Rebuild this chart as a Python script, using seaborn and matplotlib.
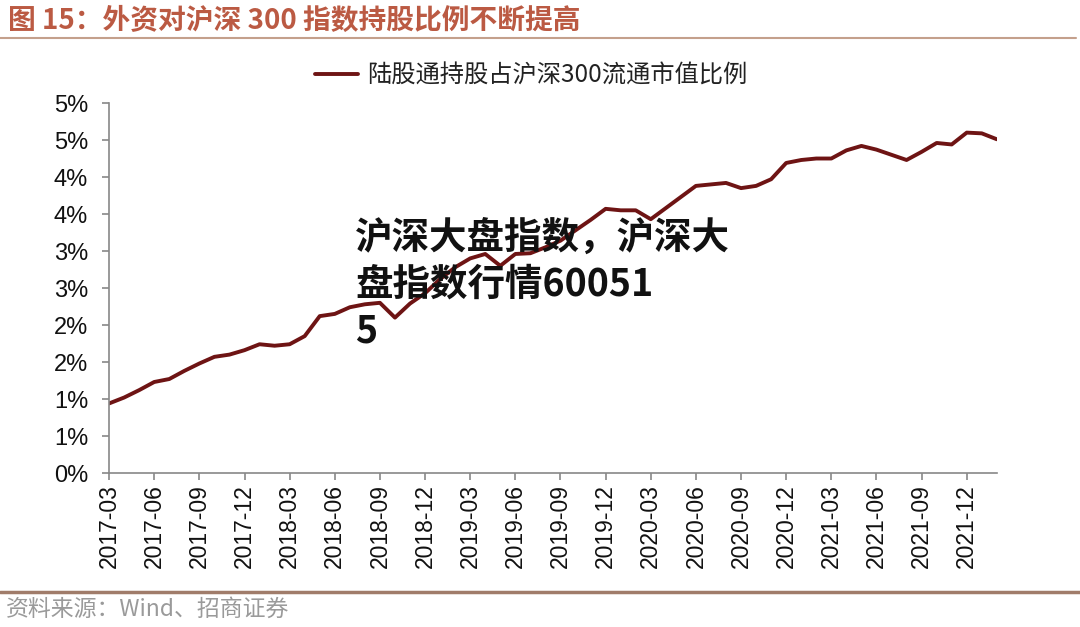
import numpy as np
import pandas as pd
import matplotlib
matplotlib.use("Agg")
from matplotlib import pyplot as plt
import seaborn as sns

# Monthly data, 2017-03 .. 2022-02
months = pd.period_range("2017-03", "2022-02", freq="M").strftime("%Y-%m").tolist()
share = [0.94, 1.02, 1.12, 1.23, 1.27, 1.38, 1.48, 1.57, 1.60, 1.66,
         1.74, 1.72, 1.74, 1.85, 2.12, 2.15, 2.24, 2.28, 2.30, 2.10,
         2.29, 2.43, 2.62, 2.78, 2.90, 2.96, 2.80, 2.96, 2.97, 3.05,
         3.14, 3.28, 3.42, 3.57, 3.55, 3.55, 3.43, 3.58, 3.73, 3.88,
         3.90, 3.92, 3.85, 3.88, 3.97, 4.19, 4.23, 4.25, 4.25, 4.36,
         4.42, 4.37, 4.30, 4.23, 4.34, 4.46, 4.44, 4.60, 4.59, 4.51]
y_ticks = [0, 0.5, 1.0, 1.5, 2.0, 2.5, 3.0, 3.5, 4.0, 4.5, 5.0]
y_labels = ["0%", "1%", "1%", "2%", "2%", "3%", "3%", "4%", "4%", "5%", "5%"]

series_name = "陆股通持股占沪深300流通市值比例"
title = "图 15：外资对沪深 300 指数持股比例不断提高"
source = "资料来源：Wind、招商证券"
overlay = "沪深大盘指数，沪深大\n盘指数行情60051\n5"

df = pd.DataFrame({"idx": np.arange(len(months)), "month": months, "share": share})

sns.set_theme(style="white")
plt.rcParams["font.family"] = ["Liberation Sans", "Noto Sans CJK SC", "DejaVu Sans"]

fig = plt.figure(figsize=(10.8, 6.27), dpi=100)
ax = fig.add_axes([0.101, 0.2456, 0.822, 0.5901])

sns.lineplot(data=df, x="idx", y="share", ax=ax, color="#6e1414",
             linewidth=2.8, label=series_name)

ax.set_xlim(0, len(months) - 1)
ax.set_ylim(0, 5.0)
ax.set_xticks(df["idx"][::3])
ax.set_xticklabels(df["month"][::3], rotation=90, fontsize=16.5, color="#111111")
ax.set_yticks(y_ticks)
ax.set_yticklabels(y_labels, fontsize=17, color="#111111")
ax.set_xlabel("")
ax.set_ylabel("")
ax.tick_params(axis="both", direction="out", length=5, width=1.2, color="#888888",
               bottom=True, left=True)
ax.tick_params(axis="y", pad=10)
ax.tick_params(axis="x", pad=3)
for s in ["top", "right"]:
    ax.spines[s].set_visible(False)
for s in ["left", "bottom"]:
    ax.spines[s].set_color("#888888")
    ax.spines[s].set_linewidth(1.2)

leg = ax.legend(loc="center", bbox_to_anchor=(0.492, 0.880), bbox_transform=fig.transFigure,
                frameon=False, handlelength=1.75, handletextpad=0.4,
                prop={"family": ["Noto Sans CJK SC"], "size": 17.5})
for t in leg.get_texts():
    t.set_color("#222222")

fig.text(0.007, 0.967, title, fontsize=20, color="#bb5a43", fontweight="bold",
         family=["Noto Sans CJK SC", "DejaVu Sans"], va="center", ha="left")
fig.add_artist(plt.Line2D([0, 0.996], [0.939, 0.939], transform=fig.transFigure,
                          color="#c4a08c", linewidth=1.5))
fig.add_artist(plt.Line2D([0, 1.0], [0.056, 0.056], transform=fig.transFigure,
                          color="#a07c6a", linewidth=2.5))
fig.text(0.005, 0.029, source, fontsize=16.5, color="#9a9a9a",
         family=["Noto Sans CJK SC", "DejaVu Sans"], va="center", ha="left")

fig.text(0.329, 0.652, overlay, fontsize=27, color="#111111", fontweight="black",
         family=["Noto Sans CJK SC", "DejaVu Sans"], va="top", ha="left", linespacing=1.25)

fig.savefig("out.png", dpi=100, facecolor="white")
